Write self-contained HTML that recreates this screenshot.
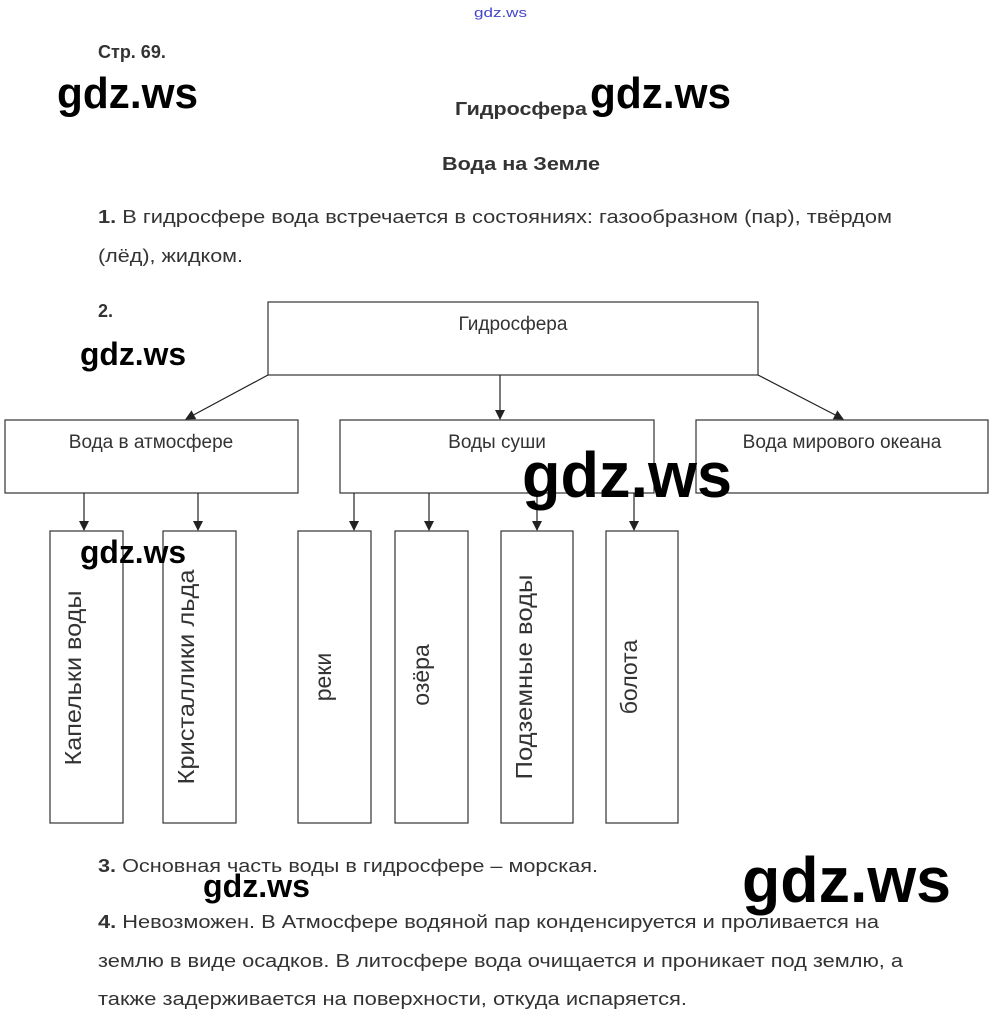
<!DOCTYPE html>
<html><head><meta charset="utf-8"><style>html,body{margin:0;padding:0;background:#fff}svg{display:block}</style></head>
<body>
<svg width="1000" height="1029" viewBox="0 0 1000 1029" xmlns="http://www.w3.org/2000/svg" font-family="Liberation Sans, Noto Sans CJK SC, sans-serif">
<defs><marker id="a" markerWidth="10" markerHeight="10" refX="9" refY="5" orient="auto" markerUnits="userSpaceOnUse"><path d="M0,0 L10,5 L0,10 z" fill="#222"/></marker></defs>
<g fill="#333">
<text x="474" y="17" font-size="13" fill="#44c" textLength="53" lengthAdjust="spacingAndGlyphs">gdz.ws</text>
<text x="98" y="58" font-size="18" font-weight="bold">Стр. 69.</text>
<text x="455" y="115" font-size="18" font-weight="bold" textLength="132" lengthAdjust="spacingAndGlyphs">Гидросфера</text>
<text x="442" y="170" font-size="18" font-weight="bold" textLength="158" lengthAdjust="spacingAndGlyphs">Вода на Земле</text>
<text x="98" y="223" font-size="18" textLength="794" lengthAdjust="spacingAndGlyphs"><tspan font-weight="bold">1.</tspan> В гидросфере вода встречается в состояниях: газообразном (пар), твёрдом</text>
<text x="98" y="262" font-size="18" textLength="145" lengthAdjust="spacingAndGlyphs">(лёд), жидком.</text>
<text x="98" y="317" font-size="18" font-weight="bold">2.</text>
<text x="98" y="872" font-size="18" textLength="500" lengthAdjust="spacingAndGlyphs"><tspan font-weight="bold">3.</tspan> Основная часть воды в гидросфере – морская.</text>
<text x="98" y="928" font-size="18" textLength="781" lengthAdjust="spacingAndGlyphs"><tspan font-weight="bold">4.</tspan> Невозможен. В Атмосфере водяной пар конденсируется и проливается на</text>
<text x="98" y="967" font-size="18" textLength="805" lengthAdjust="spacingAndGlyphs">землю в виде осадков. В литосфере вода очищается и проникает под землю, а</text>
<text x="98" y="1005" font-size="18" textLength="589" lengthAdjust="spacingAndGlyphs">также задерживается на поверхности, откуда испаряется.</text>
</g>
<g fill="#fff" stroke="#333" stroke-width="1.2">
<rect x="268" y="302" width="490" height="73"/>
<rect x="5" y="420" width="293" height="73"/>
<rect x="340" y="420" width="314" height="73"/>
<rect x="696" y="420" width="292" height="73"/>
<rect x="50" y="531" width="73" height="292"/>
<rect x="163" y="531" width="73" height="292"/>
<rect x="298" y="531" width="73" height="292"/>
<rect x="395" y="531" width="73" height="292"/>
<rect x="501" y="531" width="72" height="292"/>
<rect x="606" y="531" width="72" height="292"/>
</g>
<g stroke="#222" stroke-width="1.2" marker-end="url(#a)">
<line x1="268" y1="375" x2="186" y2="419"/>
<line x1="500" y1="375" x2="500" y2="419"/>
<line x1="758" y1="375" x2="843" y2="419"/>
<line x1="84" y1="493" x2="84" y2="530"/>
<line x1="198" y1="493" x2="198" y2="530"/>
<line x1="354" y1="493" x2="354" y2="530"/>
<line x1="429" y1="493" x2="429" y2="530"/>
<line x1="537" y1="493" x2="537" y2="530"/>
<line x1="634" y1="493" x2="634" y2="530"/>
</g>
<g fill="#333" font-size="19" text-anchor="middle">
<text x="513" y="330">Гидросфера</text>
<text x="151" y="448">Вода в атмосфере</text>
<text x="497" y="448">Воды суши</text>
<text x="842" y="448">Вода мирового океана</text>
<g font-size="23">
<text transform="translate(81,678) rotate(-90)" textLength="175" lengthAdjust="spacingAndGlyphs">Капельки воды</text>
<text transform="translate(194,677) rotate(-90)" textLength="215" lengthAdjust="spacingAndGlyphs">Кристаллики льда</text>
<text transform="translate(331,677) rotate(-90)">реки</text>
<text transform="translate(429,675) rotate(-90)">озёра</text>
<text transform="translate(532,677) rotate(-90)" textLength="205" lengthAdjust="spacingAndGlyphs">Подземные воды</text>
<text transform="translate(637,677) rotate(-90)">болота</text>
</g>
</g>
<g fill="#000" font-family="Liberation Sans, sans-serif" font-weight="bold">
<text x="57" y="108" font-size="44" textLength="141" lengthAdjust="spacingAndGlyphs">gdz.ws</text>
<text x="590" y="108" font-size="44" textLength="141" lengthAdjust="spacingAndGlyphs">gdz.ws</text>
<text x="80" y="365" font-size="32" textLength="106" lengthAdjust="spacingAndGlyphs">gdz.ws</text>
<text x="522" y="497" font-size="64" textLength="210" lengthAdjust="spacingAndGlyphs">gdz.ws</text>
<text x="80" y="563" font-size="32" textLength="106" lengthAdjust="spacingAndGlyphs">gdz.ws</text>
<text x="203" y="897" font-size="32" textLength="107" lengthAdjust="spacingAndGlyphs">gdz.ws</text>
<text x="742" y="902" font-size="64" textLength="209" lengthAdjust="spacingAndGlyphs">gdz.ws</text>
</g>
</svg>
</body></html>
